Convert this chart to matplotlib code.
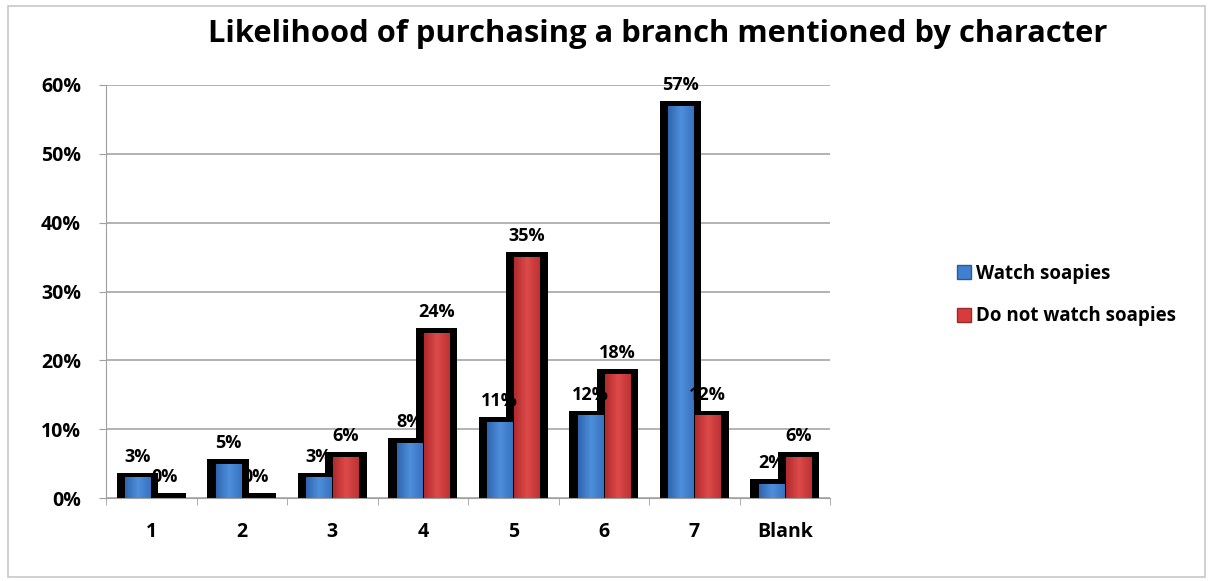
import matplotlib
matplotlib.use("Agg")
import matplotlib.pyplot as plt
import numpy as np
from matplotlib.colors import LinearSegmentedColormap
from matplotlib.patches import Patch, Rectangle

plt.rcParams['font.family'] = ['Open Sans', 'DejaVu Sans']
plt.rcParams['font.weight'] = 'bold'

# categories and series values (percent)
categorias = ["1", "2", "3", "4", "5", "6", "7", "Blank"]
ven_soapies = [3, 5, 3, 8, 11, 12, 57, 2]
no_ven_soapies = [0, 0, 6, 24, 35, 18, 12, 6]
series = ["Watch soapies", "Do not watch soapies"]
yticks = [0, 10, 20, 30, 40, 50, 60]

AZUL = "#4180CF"
ROJO = "#D63C3C"
cmap_azul = LinearSegmentedColormap.from_list("az", ["#2F64AE", "#4E8FDC", "#3872C0"])
cmap_rojo = LinearSegmentedColormap.from_list("ro", ["#B02A2C", "#DE4A4A", "#BE3234"])

fig = plt.figure(figsize=(12.11, 5.81), dpi=100)
ax = fig.add_axes([106/1211, 1-498/581, (830-106)/1211, (498-85)/581])

x = np.arange(len(categorias))
ancho = 0.28
borde = 0.09
desp = 0.15

# sombra negra detras de cada barra
for valores, d in ((ven_soapies, -desp), (no_ven_soapies, desp)):
    ax.bar(x + d, np.array(valores) + 0.7, width=ancho + 2*borde,
           color="black", zorder=2)
# barras de color
b1 = ax.bar(x - desp, ven_soapies, width=ancho, color=AZUL, zorder=3)
b2 = ax.bar(x + desp, no_ven_soapies, width=ancho, color=ROJO, zorder=3)

# degradado horizontal dentro de cada barra
grad = np.linspace(0, 1, 64).reshape(1, -1)
for barras, cm in ((b1, cmap_azul), (b2, cmap_rojo)):
    for rect in barras:
        h = rect.get_height()
        if h <= 0:
            continue
        x0 = rect.get_x()
        im = ax.imshow(grad, cmap=cm, aspect="auto", zorder=3.5,
                       extent=(x0, x0 + rect.get_width(), 0, h))
        im.set_clip_path(rect)

# etiquetas de valor
for barras, valores in ((b1, ven_soapies), (b2, no_ven_soapies)):
    for rect, v in zip(barras, valores):
        ax.annotate(f"{v}%", (rect.get_x() + rect.get_width()/2, v),
                    xytext=(0, 15), textcoords="offset points",
                    ha="center", va="center", fontsize=13,
                    fontweight="bold", zorder=5)

ax.set_xlim(-0.5, len(categorias) - 0.5)
ax.set_ylim(0, 60)
ax.set_yticks(yticks)
ax.set_yticklabels([f"{t}%" for t in yticks], fontsize=14, fontweight="bold")
ax.set_xticks(x)
ax.set_xticklabels(categorias, fontsize=14, fontweight="bold")
ax.set_xticks(np.arange(len(categorias) + 1) - 0.5, minor=True)
ax.tick_params(axis="x", which="major", length=0, pad=17)
ax.tick_params(axis="x", which="minor", length=5, color="#A0A0A0")
ax.tick_params(axis="y", length=5, color="#A0A0A0", pad=13)

ax.grid(axis="y", color="#A6A6A6", linewidth=1.2, zorder=0)
ax.set_axisbelow(True)
for lado in ("top", "right"):
    ax.spines[lado].set_visible(False)
ax.spines["left"].set_color("#A0A0A0")
ax.spines["bottom"].set_color("#A0A0A0")

fig.text(658/1211, 1-34/581, "Likelihood of purchasing a branch mentioned by character",
         ha="center", va="center", fontsize=22.2, fontweight="bold")

handles = [Patch(facecolor=AZUL, edgecolor="#2A5A9A"),
           Patch(facecolor=ROJO, edgecolor="#9A2A2A")]
fig.legend(handles, series, loc="center left",
           bbox_to_anchor=(940/1211, 1-295/581), frameon=False,
           handlelength=0.75, handleheight=0.75, handletextpad=0.25,
           labelspacing=1.2, prop={"size": 13.5, "weight": "bold"})

# marco exterior del grafico
fig.patches.append(Rectangle((8/1211, 4/581), 1197/1211, 571/581,
                             transform=fig.transFigure, fill=False,
                             edgecolor="#C8C8C8", linewidth=1.2))

fig.savefig("out.png", dpi=100)
